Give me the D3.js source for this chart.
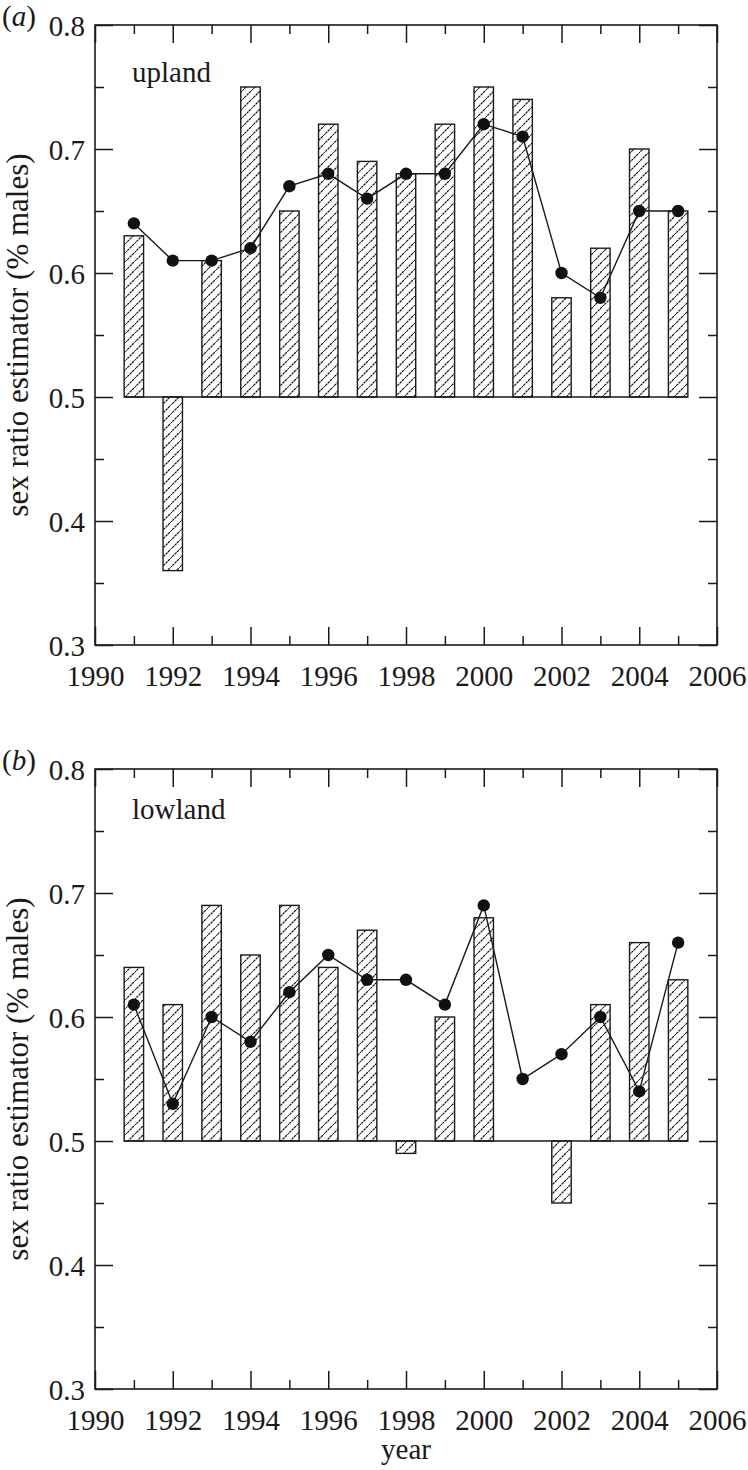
<!DOCTYPE html>
<html>
<head>
<meta charset="utf-8">
<script src="https://cdn.jsdelivr.net/npm/d3@7/dist/d3.min.js"></script>
<style>
  html, body { margin: 0; padding: 0; background: #fff; }
  svg { display: block; }
  svg text { font-family: "Liberation Serif", "DejaVu Serif", serif !important; fill: #1a1a1a; }
</style>
</head>
<body>
<svg id="chart" width="748" height="1470"></svg>
<script>
// ---- data ----
const years = [1991,1992,1993,1994,1995,1996,1997,1998,1999,2000,2001,2002,2003,2004,2005];
const uplandBars   = [0.63,0.36,0.61,0.75,0.65,0.72,0.69,0.68,0.72,0.75,0.74,0.58,0.62,0.70,0.65];
const uplandPoints = [0.64,0.61,0.61,0.62,0.67,0.68,0.66,0.68,0.68,0.72,0.71,0.60,0.58,0.65,0.65];
const lowlandBars   = [0.64,0.61,0.69,0.65,0.69,0.64,0.67,0.49,0.60,0.68,0.50,0.45,0.61,0.66,0.63];
const lowlandPoints = [0.61,0.53,0.60,0.58,0.62,0.65,0.63,0.63,0.61,0.69,0.55,0.57,0.60,0.54,0.66];
const xMajorTicks = [1990,1992,1994,1996,1998,2000,2002,2004,2006];
const xMinorTicks = [1991,1993,1995,1997,1999,2001,2003,2005];
const yMajorTicks = [0.3,0.4,0.5,0.6,0.7,0.8];
const yMinorTicks = [0.35,0.45,0.55,0.65,0.75];
const panels = [
  {tag: "a", name: "upland",  bars: uplandBars,  points: uplandPoints},
  {tag: "b", name: "lowland", bars: lowlandBars, points: lowlandPoints}
];
const yLabel = "sex ratio estimator (% males)";
const xLabel = "year";

// ---- layout ----
const svg = d3.select("#chart");
const ink = "#1a1a1a";
const serif = '"Liberation Serif", "DejaVu Serif", serif';
const L = 95, R = 717;
const panelTop = [25, 769];
const panelH = 620;
const fs = 29;

const defs = svg.append("defs");
const pat = defs.append("pattern")
  .attr("id", "hatch").attr("patternUnits", "userSpaceOnUse")
  .attr("width", 9).attr("height", 9);
pat.append("rect").attr("width", 9).attr("height", 9).attr("fill", "#fff");
pat.append("path")
  .attr("d", "M-1,10 L10,-1 M-2,2 L2,-2 M7,11 L11,7")
  .attr("stroke", "#151515").attr("stroke-width", 1.25)
  .attr("stroke-dasharray", "2.6,0.7");

const x = d3.scaleLinear().domain([1990, 2006]).range([L, R]);

panels.forEach((p, i) => {
  const T = panelTop[i], B = T + panelH;
  const y = d3.scaleLinear().domain([0.3, 0.8]).range([B, T]);
  const g = svg.append("g");

  // frame
  g.append("rect").attr("x", L).attr("y", T).attr("width", R - L).attr("height", B - T)
    .attr("fill", "none").attr("stroke", ink).attr("stroke-width", 1.6);

  const styleAxis = sel => {
    sel.select(".domain").remove();
    sel.attr("font-family", null).attr("font-size", null);
    sel.selectAll(".tick line").attr("stroke", ink).attr("stroke-width", 1.5);
  };
  // left major with labels
  const left = g.append("g").attr("transform", `translate(${L},0)`)
    .call(d3.axisLeft(y).tickValues(yMajorTicks).tickSize(-18).tickPadding(10).tickFormat(d3.format(".1f")));
  styleAxis(left);
  left.selectAll(".tick text").attr("dy", null).attr("y", 10)
    .style("font-family", serif).style("font-size", fs + "px").style("fill", ink);
  g.append("g").attr("transform", `translate(${L},0)`)
    .call(d3.axisLeft(y).tickValues(yMinorTicks).tickSize(-9).tickFormat("")).call(styleAxis);
  // right
  g.append("g").attr("transform", `translate(${R},0)`)
    .call(d3.axisRight(y).tickValues(yMajorTicks).tickSize(-18).tickFormat("")).call(styleAxis);
  g.append("g").attr("transform", `translate(${R},0)`)
    .call(d3.axisRight(y).tickValues(yMinorTicks).tickSize(-9).tickFormat("")).call(styleAxis);
  // bottom with labels
  const bottom = g.append("g").attr("transform", `translate(0,${B})`)
    .call(d3.axisBottom(x).tickValues(xMajorTicks).tickSize(-18).tickFormat(d3.format("d")));
  styleAxis(bottom);
  bottom.selectAll(".tick text").attr("dy", null).attr("y", 41)
    .style("font-family", serif).style("font-size", fs + "px").style("fill", ink);
  g.append("g").attr("transform", `translate(0,${B})`)
    .call(d3.axisBottom(x).tickValues(xMinorTicks).tickSize(-9).tickFormat("")).call(styleAxis);
  // top
  g.append("g").attr("transform", `translate(0,${T})`)
    .call(d3.axisTop(x).tickValues(xMajorTicks).tickSize(-18).tickFormat("")).call(styleAxis);
  g.append("g").attr("transform", `translate(0,${T})`)
    .call(d3.axisTop(x).tickValues(xMinorTicks).tickSize(-9).tickFormat("")).call(styleAxis);

  // bars
  const half = (x(1990.25) - x(1990));
  const data = years.map((yr, j) => ({yr, bar: p.bars[j], pt: p.points[j]}));
  g.selectAll("rect.bar").data(data.filter(d => Math.abs(d.bar - 0.5) > 1e-9)).join("rect")
    .attr("class", "bar")
    .attr("x", d => x(d.yr) - half)
    .attr("width", 2 * half)
    .attr("y", d => y(Math.max(d.bar, 0.5)))
    .attr("height", d => Math.abs(y(d.bar) - y(0.5)))
    .attr("fill", "url(#hatch)").attr("stroke", ink).attr("stroke-width", 1.4);

  // baseline at 0.5
  g.append("line")
    .attr("x1", x(years[0]) - half).attr("x2", x(years[years.length - 1]) + half)
    .attr("y1", y(0.5)).attr("y2", y(0.5))
    .attr("stroke", ink).attr("stroke-width", 1.6);

  // line + points
  const line = d3.line().x(d => x(d.yr)).y(d => y(d.pt));
  g.append("path").datum(data).attr("d", line)
    .attr("fill", "none").attr("stroke", ink).attr("stroke-width", 1.4);
  g.selectAll("circle").data(data).join("circle")
    .attr("cx", d => x(d.yr)).attr("cy", d => y(d.pt)).attr("r", 6.2)
    .attr("fill", "#111");

  // panel tag
  const tag = g.append("text").attr("x", 2).attr("y", T + 1).style("font-size", fs + "px");
  tag.append("tspan").text("(");
  tag.append("tspan").attr("font-style", "italic").text(p.tag);
  tag.append("tspan").text(")");

  // site name
  g.append("text").attr("x", 132).attr("y", T + (i === 0 ? 57 : 50)).style("font-size", fs + "px").text(p.name);

  // y label
  g.append("text")
    .attr("transform", `translate(28,${(T + B) / 2}) rotate(-90)`)
    .attr("text-anchor", "middle").style("font-size", "31px").text(yLabel);
});

// x label
svg.append("text").attr("x", (L + R) / 2).attr("y", 1459)
  .attr("text-anchor", "middle").style("font-size", fs + "px").text(xLabel);
</script>
</body>
</html>
